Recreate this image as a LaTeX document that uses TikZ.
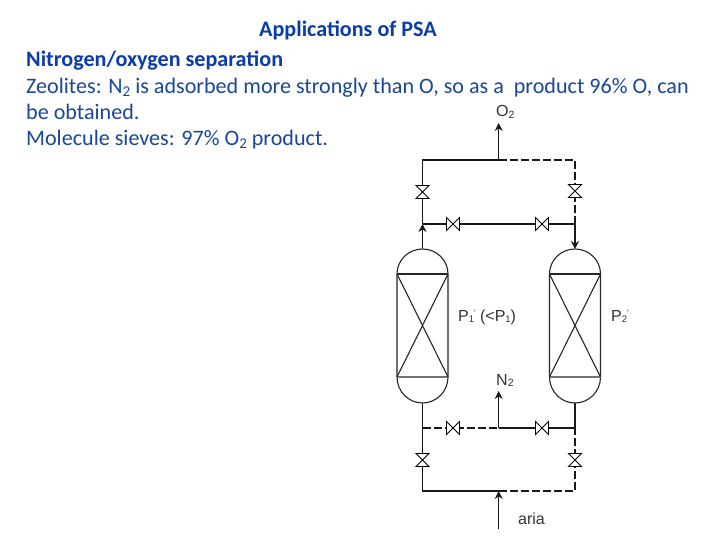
\documentclass[tikz,border=0pt]{standalone}
\usepackage{fontspec}
\setmainfont{Carlito}
\newfontfamily\diagfont{Liberation Sans}
\usetikzlibrary{arrows.meta}
\definecolor{slideblue}{RGB}{26,72,150}
\definecolor{headblue}{RGB}{10,60,170}
\tikzset{
  x=1pt,y=-1pt,
  pipe/.style={line width=1.2pt,black!90},
  thickpipe/.style={line width=1.6pt,black!90},
  dashpipe/.style={line width=1.2pt,black!90,dash pattern=on 8pt off 3pt},
  flow/.style={-{Stealth[length=8pt,width=8pt]}},
  vesselline/.style={line width=1.1pt,black!85},
  valvenode/.style={minimum width=13pt,minimum height=13pt,inner sep=0pt,outer sep=0pt},
  body/.style={anchor=base west,text=slideblue,font=\fontsize{22.1}{26}\selectfont,inner sep=0pt},
  bodybold/.style={body,text=headblue,font=\fontsize{22.1}{26}\selectfont\bfseries},
  lab/.style={anchor=base west,inner sep=0pt,text=black!80,font=\diagfont\fontsize{16}{19}\selectfont},
}
\newcommand{\valveV}[3]{\node[valvenode] (#1) at (#2,#3) {};
  \draw[line width=0.9pt,fill=white] (#1.north west) -- (#1.north east) -- (#1.south west) -- (#1.south east) -- cycle;}
\newcommand{\valveH}[3]{\node[valvenode] (#1) at (#2,#3) {};
  \draw[line width=0.9pt,fill=white] (#1.north west) -- (#1.south west) -- (#1.north east) -- (#1.south east) -- cycle;}
\newcommand{\vessel}[2]{%
  \draw[vesselline] (#1-25.5,274) arc[start angle=180,end angle=360,x radius=25.5,y radius=25]
    -- (#1+25.5,377) arc[start angle=0,end angle=180,x radius=25.5,y radius=26] -- cycle;
  \draw[line width=1.4pt,black!85] (#1-25.5,274) -- (#1+25.5,274);
  \draw[line width=1.4pt,black!55] (#1-25.5,377) -- (#1+25.5,377);
  \draw[vesselline] (#1-25.5,274) -- (#1+25.5,377) (#1+25.5,274) -- (#1-25.5,377);
  \coordinate (#2top) at (#1,249);
  \coordinate (#2bot) at (#1,403);
}
\begin{document}
\begin{tikzpicture}
\useasboundingbox (0,0) rectangle (720,540);
\fill[white] (0,0) rectangle (720,540);

% texts
\node[bodybold] (t0) at (259,37) {Applications of PSA};
\node[bodybold] (t1) at (26,67) {Nitrogen/oxygen separation};
\node[body] (t2) at (26,94) {Zeolites: N\raisebox{-3pt}{\fontsize{15}{15}\selectfont 2} is adsorbed more strongly than O, so as a~~product 96\% O, can};
\node[body] (t3) at (26,120) {be obtained.};
\node[body] (t4) at (26,146) {Molecule sieves: 97\% O\raisebox{-3pt}{\fontsize{15}{15}\selectfont 2} product.};

% vessels
\vessel{422.5}{L}
\vessel{575}{R}

% junctions
\coordinate (tl) at (422.5,160);
\coordinate (tc) at (498.7,160);
\coordinate (tr) at (575,160);
\coordinate (ml) at (422.5,224);
\coordinate (mr) at (575,224);
\coordinate (nl) at (422.5,428);
\coordinate (nc) at (498.7,428);
\coordinate (nr) at (575,428);
\coordinate (bl) at (422.5,491);
\coordinate (bc) at (498.7,491);
\coordinate (br) at (575,491);
\coordinate (airin) at (498.7,529);
\coordinate (o2out) at (498.7,123);
\coordinate (n2out) at (498.7,391);

% top pipes
\draw[pipe,flow] (tc) -- (o2out);
\draw[pipe] (tc) -- (tl) -- (ml);
\draw[dashpipe] (tc) -- (tr) -- (mr);
\draw[thickpipe] (ml) -- (mr);
\draw[pipe,flow] (Ltop) -- (ml);
\draw[pipe,flow] (mr) -- (Rtop);

% bottom pipes
\draw[pipe] (Lbot) -- (nl) -- (bl) -- (bc);
\draw[dashpipe] (bc) -- (br) -- (nr);
\draw[pipe] (Rbot) -- (nr);
\draw[line width=1.8pt,black!40] (nc) -- (nr);
\draw[pipe] (nc) -- (nr);
\draw[dashpipe] (nl) -- (nc);
\draw[pipe,flow] (nc) -- (n2out);
\draw[pipe,flow] (airin) -- (bc);

% valves
\valveV{v1}{422.5}{192}
\valveV{v2}{575}{191}
\valveH{v3}{453}{224}
\valveH{v4}{542}{224}
\valveH{v5}{453}{428}
\valveH{v6}{542}{428}
\valveV{v7}{422.5}{460}
\valveV{v8}{575}{460}

% labels
\node[lab] (o2) at (496,117) {O\raisebox{-1.5pt}{\fontsize{10.5}{10}\selectfont 2}};
\node[lab] (p1) at (458,321) {P\raisebox{-1.5pt}{\fontsize{9.5}{9}\selectfont 1}\raisebox{5.5pt}{\fontsize{8}{8}\selectfont ′} (<P\raisebox{-1.5pt}{\fontsize{9.5}{9}\selectfont 1})};
\node[lab] (p2) at (611,321) {P\raisebox{-1.5pt}{\fontsize{9.5}{9}\selectfont 2}\raisebox{5.5pt}{\fontsize{8}{8}\selectfont ′}};
\node[lab] (n2) at (496,385) {N\raisebox{-1.5pt}{\fontsize{10.5}{10}\selectfont 2}};
\node[lab] (air) at (518,524) {aria};
\end{tikzpicture}
\end{document}
